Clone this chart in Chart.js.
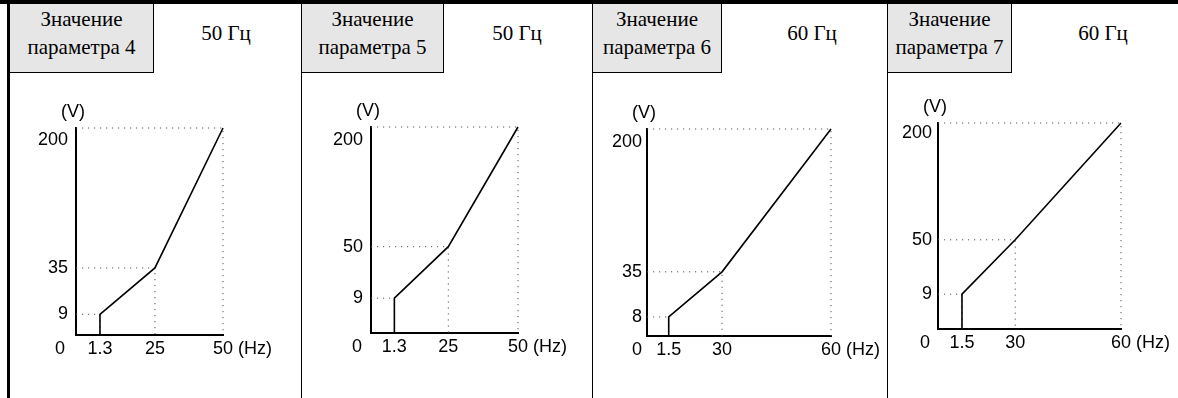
<!DOCTYPE html>
<html lang="ru">
<head>
<meta charset="UTF-8">
<title>Характеристики U/f</title>
<script src="https://cdn.jsdelivr.net/npm/chart.js"></script>
<style>
  body { margin: 0; background: #fff; }
  #sheet { position: relative; width: 1178px; height: 398px; overflow: hidden; font-family: "Liberation Serif", "Times New Roman", "DejaVu Serif", serif; color: #000; }
  .rule { position: absolute; background: #000; }
  .param { position: absolute; top: 4px; height: 58px; padding-bottom: 10px; background: #e6e6e6; border-right: 1px solid #000; border-bottom: 1px solid #000;
           display: flex; align-items: center; justify-content: center; text-align: center; font-size: 21px; line-height: 28px; white-space: nowrap; }
  .freq { position: absolute; top: 4px; height: 58px; padding-bottom: 10px; display: flex; align-items: center; justify-content: center; font-size: 21px; }
  .plot { position: absolute; top: 80px; height: 318px; }
</style>
</head>
<body>
<div id="sheet"></div>
<script>
// one panel per parameter value
const paramNo = [4, 5, 6, 7];
const baseFreq = ['50 Гц', '50 Гц', '60 Гц', '60 Гц'];

// V/f curve corners: (Hz, V)
const freq = [
  [1.3, 1.3, 25, 50],
  [1.3, 1.3, 25, 50],
  [1.5, 1.5, 30, 60],
  [1.5, 1.5, 30, 60]
];
const volts = [
  [0, 9, 35, 200],
  [0, 9, 50, 200],
  [0, 8, 35, 200],
  [0, 9, 50, 200]
];

// tick labels
const freqTicks = [[1.3, 25, 50], [1.3, 25, 50], [1.5, 30, 60], [1.5, 30, 60]];
const voltTicks = [[9, 35, 200], [9, 50, 200], [8, 35, 200], [9, 50, 200]];

// page layout. the axes in the original are schematic, not to scale,
// so every tick gets its own place along the axis (xPos / yPos, 0..1)
const panels = [
  { left: 10,  right: 301,  boxRight: 154,  plot: [76, 128, 223, 335],  xPos: [0.163, 0.537, 1], yPos: [0.10, 0.324, 1],  zeroGap: 16, tickGap: 8, topDrop: 12 },
  { left: 302, right: 592,  boxRight: 444,  plot: [371, 127, 518, 333], xPos: [0.159, 0.526, 1], yPos: [0.169, 0.419, 1], zeroGap: 14, tickGap: 8, topDrop: 13 },
  { left: 593, right: 887,  boxRight: 722,  plot: [647, 129, 831, 336], xPos: [0.118, 0.408, 1], yPos: [0.092, 0.31, 1],  zeroGap: 10, tickGap: 5, topDrop: 13.5 },
  { left: 888, right: 1178, boxRight: 1012, plot: [938, 123, 1121, 329], xPos: [0.131, 0.422, 1], yPos: [0.169, 0.433, 1], zeroGap: 13, tickGap: 6, topDrop: 10 }
];
const FREQ_CELL = 150; // the "50 Гц" cell width, right-hand part of each header
const YW = 45;   // width kept for the y tick labels
const XH = 30;   // height kept for the x tick labels
const TOP = 80, BOTTOM = 398;
const sansFont = '"Liberation Sans", Arial, sans-serif';

// linear scale that follows a piecewise mapping value -> axis fraction
class SchematicScale extends Chart.LinearScale {
  static id = 'schematic';
  static defaults = {};
  toDecimal(v) {
    const vs = this.options.stopValues, ps = this.options.stopPos;
    let k = 1;
    while (k < vs.length - 1 && v > vs[k]) k++;
    return ps[k - 1] + (v - vs[k - 1]) / (vs[k] - vs[k - 1]) * (ps[k] - ps[k - 1]);
  }
  getPixelForValue(v) {
    return this.getPixelForDecimal(this.toDecimal(v));
  }
  getValueForPixel(px) {
    const d = this.getDecimalForPixel(px);
    const vs = this.options.stopValues, ps = this.options.stopPos;
    let k = 1;
    while (k < ps.length - 1 && d > ps[k]) k++;
    return vs[k - 1] + (d - ps[k - 1]) / (ps[k] - ps[k - 1]) * (vs[k] - vs[k - 1]);
  }
}
Chart.register(SchematicScale);

// "(V)" over the y axis, "0" at the origin, "(Hz)" after the last x label
const axisNotes = {
  id: 'axisNotes',
  afterDraw(chart, args, opts) {
    const { ctx, scales: { x, y } } = chart;
    const xMax = x.max;
    const rowY = x.top + 3 + 18 * 0.6;
    ctx.save();
    ctx.font = '18px ' + sansFont;
    ctx.fillStyle = '#000';
    ctx.textBaseline = 'middle';
    ctx.textAlign = 'center';
    ctx.fillText('(V)', x.left - 3, y.getPixelForValue(y.max) - 16);
    ctx.fillText('0', x.left - opts.zeroGap, rowY);
    ctx.textAlign = 'left';
    const lx = x.getPixelForValue(xMax) + ctx.measureText(String(xMax)).width / 2 + ctx.measureText(' ').width;
    ctx.fillText('(Hz)', lx, rowY);
    ctx.restore();
  }
};

const sheet = document.getElementById('sheet');
function rule(l, t, w, h) {
  const d = document.createElement('div');
  d.className = 'rule';
  Object.assign(d.style, { left: l + 'px', top: t + 'px', width: w + 'px', height: h + 'px' });
  sheet.appendChild(d);
}
rule(0, 0, 1178, 4);
rule(7, 0, 3, 398);

panels.forEach((p, i) => {
  if (i > 0) rule(p.left - 1, 4, 1, 394);

  const box = document.createElement('div');
  box.className = 'param';
  box.style.left = p.left + 'px';
  box.style.width = (p.boxRight - p.left - 1) + 'px';
  box.innerHTML = 'Значение<br>параметра ' + paramNo[i];
  sheet.appendChild(box);

  const hz = document.createElement('div');
  hz.className = 'freq';
  hz.style.left = (p.right - FREQ_CELL) + 'px';
  hz.style.width = FREQ_CELL + 'px';
  hz.textContent = baseFreq[i];
  sheet.appendChild(hz);

  const wrap = document.createElement('div');
  wrap.className = 'plot';
  wrap.style.left = p.left + 'px';
  wrap.style.width = (p.right - p.left) + 'px';
  const canvas = document.createElement('canvas');
  wrap.appendChild(canvas);
  sheet.appendChild(wrap);

  const fT = freqTicks[i], vT = voltTicks[i];
  const curve = freq[i].map((f, k) => ({ x: f, y: volts[i][k] }));
  // dotted guides from each corner to both axes
  const guides = curve.filter(c => c.y > 0).flatMap(c => [
    { x: 0, y: c.y }, { x: c.x, y: c.y }, { x: c.x, y: 0 }, { x: c.x, y: null }
  ]);
  const [pl, pt, pr, pb] = p.plot;

  const axisStyle = {
    grid: { display: true, color: 'transparent', drawOnChartArea: false, drawTicks: false },
    border: { display: true, color: '#000', width: 2 }
  };

  new Chart(canvas, {
    type: 'line',
    data: {
      datasets: [
        { data: curve, borderColor: '#000', borderWidth: 1.6, pointRadius: 0, tension: 0, clip: false, order: 1 },
        { data: guides, borderColor: '#555', borderWidth: 1, borderDash: [1.2, 4.8], pointRadius: 0, spanGaps: false, clip: false, order: 2 }
      ]
    },
    options: {
      responsive: true,
      maintainAspectRatio: false,
      animation: false,
      events: [],
      layout: { padding: { left: pl - p.left - YW, right: p.right - pr, top: pt - TOP, bottom: BOTTOM - pb - XH } },
      plugins: {
        legend: { display: false },
        tooltip: { enabled: false },
        axisNotes: { zeroGap: p.zeroGap }
      },
      scales: {
        x: {
          type: 'schematic',
          min: 0,
          max: fT[fT.length - 1],
          stopValues: [0, ...fT],
          stopPos: [0, ...p.xPos],
          afterBuildTicks: s => { s.ticks = fT.map(v => ({ value: v })); },
          afterFit: s => { s.height = XH; },
          ticks: { autoSkip: false, maxRotation: 0, padding: 3, color: '#000', font: { family: sansFont, size: 18 }, callback: v => String(v) },
          ...axisStyle
        },
        y: {
          type: 'schematic',
          min: 0,
          max: vT[vT.length - 1],
          stopValues: [0, ...vT],
          stopPos: [0, ...p.yPos],
          afterBuildTicks: s => { s.ticks = vT.map(v => ({ value: v })); },
          afterFit: s => { s.width = YW; },
          ticks: {
            autoSkip: false,
            padding: p.tickGap,
            color: '#000',
            font: { family: sansFont, size: 18, lineHeight: 2 * p.topDrop / 18 },
            // top label sits just under its line in the original
            callback: v => v === vT[vT.length - 1] ? ['', String(v)] : String(v)
          },
          ...axisStyle
        }
      }
    },
    plugins: [axisNotes]
  });
});
</script>
</body>
</html>
